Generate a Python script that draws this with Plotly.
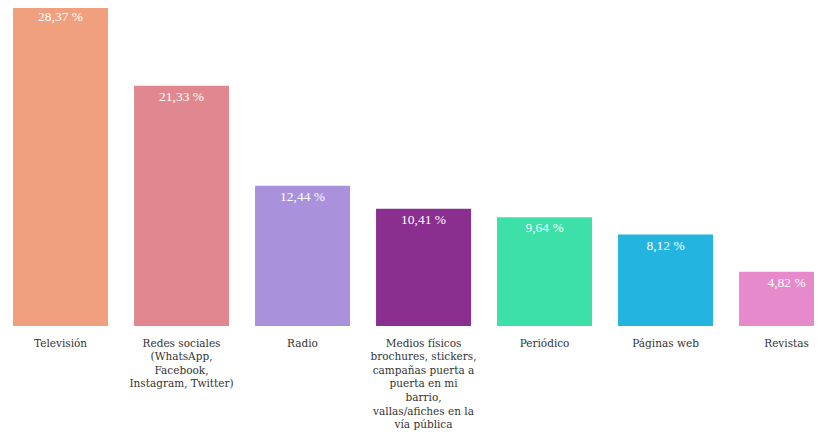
import plotly.graph_objects as go

categories = [
    "Televisión",
    "Redes sociales<br>(WhatsApp,<br>Facebook,<br>Instagram, Twitter)",
    "Radio",
    "Medios físicos<br>brochures, stickers,<br>campañas puerta a<br>puerta en mi<br>barrio,<br>vallas/afiches en la<br>vía pública",
    "Periódico",
    "Páginas web",
    "Revistas",
]
values = [28.37, 21.33, 12.44, 10.41, 9.64, 8.12, 4.82]
value_labels = ["28,37 %", "21,33 %", "12,44 %", "10,41 %", "9,64 %", "8,12 %", "4,82 %"]
colors = ["#F0A07E", "#E0878F", "#A991DB", "#8A2E90", "#3DE0A8", "#23B5E0", "#E78ACB"]

fig = go.Figure(go.Bar(
    x=categories,
    y=values,
    text=value_labels,
    textposition="inside",
    insidetextanchor="end",
    textangle=0,
    constraintext="none",
    textfont=dict(family="Liberation Serif", size=13.5, color="white"),
    marker=dict(color=colors, line=dict(width=0)),
    hoverinfo="skip",
))

fig.update_layout(
    width=814, height=424,
    margin=dict(l=0, r=0, t=0, b=106, autoexpand=False),
    paper_bgcolor="white", plot_bgcolor="white",
    bargap=0.215,
    showlegend=False,
    font=dict(family="DejaVu Serif", size=10.5, color="#333333"),
    xaxis=dict(range=[-0.434, 6.293], showgrid=False, showline=False, ticks="",
               automargin=False, tickangle=0, ticklabelstandoff=9,
               tickfont=dict(family="DejaVu Serif", size=10.5, color="#333333")),
    yaxis=dict(range=[0, 28.22], visible=False, showgrid=False, automargin=False),
)
fig.write_html("out.html")
